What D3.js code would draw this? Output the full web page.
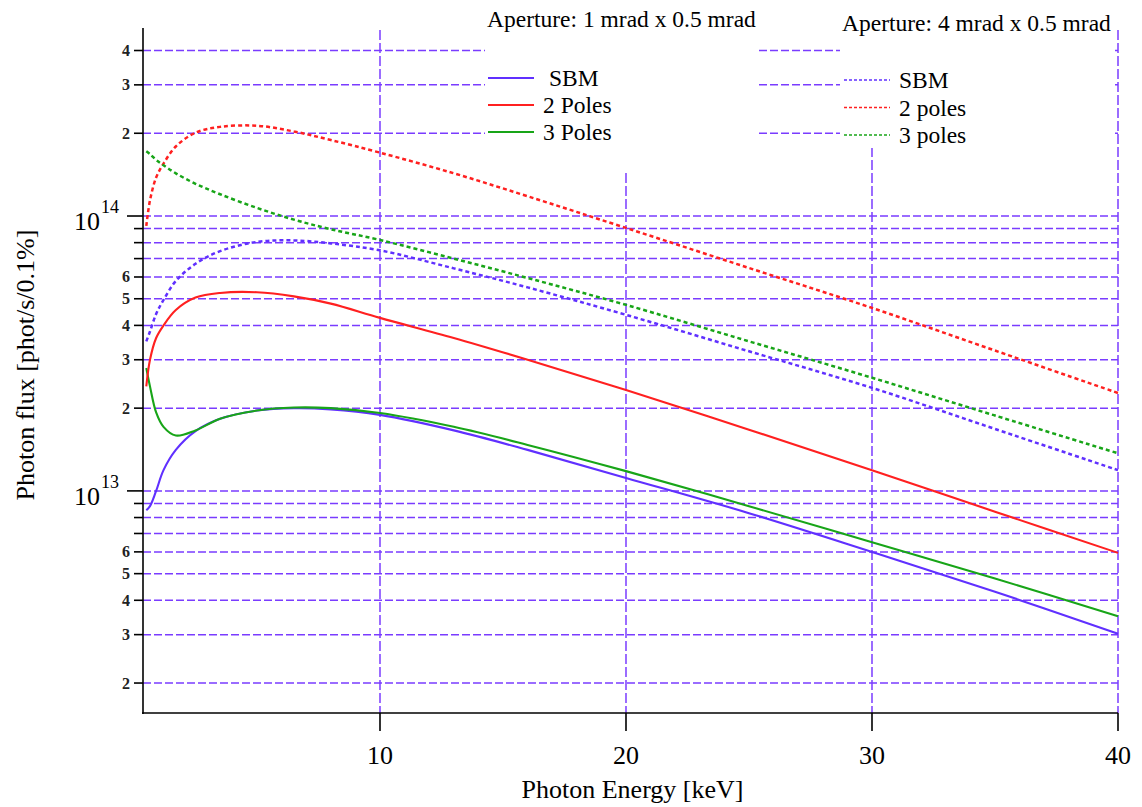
<!DOCTYPE html>
<html>
<head>
<meta charset="utf-8">
<script src="https://cdn.jsdelivr.net/npm/d3@7"></script>
<style>
  html, body { margin: 0; padding: 0; background: #fff; }
  svg { display: block; }
  svg text { font-family: "Liberation Serif", "Times New Roman", serif; }
</style>
</head>
<body>
<svg id="chart" width="1142" height="807"></svg>
<script>
// ---------- data (photon flux in units of 1e13 phot/s/0.1%) ----------
const energy = [0.5, 0.65, 0.9, 1.2, 1.7, 2.5, 3.5, 5, 6.5, 8, 10, 13, 16, 20, 25, 30, 35, 40];

// Aperture 1 mrad x 0.5 mrad (solid)
const sbm1    = [0.85, 0.88, 1.0, 1.19, 1.41, 1.65, 1.83, 1.96, 2.0, 1.98, 1.89, 1.66, 1.41, 1.115, 0.83, 0.60, 0.43, 0.302];
const poles2_1 = [2.4, 3.0, 3.6, 4.0, 4.55, 5.05, 5.25, 5.28, 5.1, 4.8, 4.26, 3.6, 3.0, 2.33, 1.67, 1.19, 0.84, 0.595];
const poles3_1 = [2.8, 2.4, 1.93, 1.71, 1.59, 1.66, 1.83, 1.96, 2.01, 2.0, 1.92, 1.71, 1.47, 1.18, 0.88, 0.65, 0.48, 0.35];

// Aperture 4 mrad x 0.5 mrad (dotted)
const sbm4    = [3.5, 3.8, 4.4, 4.95, 5.8, 6.7, 7.45, 8.05, 8.15, 7.95, 7.5, 6.45, 5.5, 4.37, 3.22, 2.37, 1.68, 1.19];
const poles2_4 = [9.2, 11.4, 13.8, 15.5, 17.9, 20.1, 21.1, 21.3, 20.3, 18.9, 17.0, 14.3, 11.8, 9.05, 6.47, 4.63, 3.24, 2.27];
const poles3_4 = [17.2, 16.8, 16.0, 15.3, 14.3, 13.1, 12.0, 10.7, 9.7, 8.95, 8.18, 7.0, 5.95, 4.75, 3.5, 2.58, 1.88, 1.37];

// ticks
const xTicks = [10, 20, 30, 40];
const xTickLabels = ["10", "20", "30", "40"];
const yTicks = [0.2, 0.3, 0.4, 0.5, 0.6, 0.7, 0.8, 0.9, 1, 2, 3, 4, 5, 6, 7, 8, 9, 10, 20, 30, 40];
const yTickLabels = ["2", "3", "4", "5", "6", "", "", "", "10^13", "2", "3", "4", "5", "6", "", "", "", "10^14", "2", "3", "4"];

const legend1Title = "Aperture: 1 mrad x 0.5 mrad";
const legend2Title = "Aperture: 4 mrad x 0.5 mrad";
const legend1Labels = ["SBM", "2 Poles", "3 Poles"];
const legend2Labels = ["SBM", "2 poles", "3 poles"];

// ---------- layout ----------
const C_SBM = "#6030ff", C_RED = "#ff2020", C_GREEN = "#18a518", C_GRID = "#7a3cff";
const FONT = "'Liberation Serif', 'Times New Roman', serif";
const pL = 143, pR = 1118, pT = 28, pB = 713;

const svg = d3.select("#chart");
const x = d3.scaleLinear().domain([0.366, 40]).range([pL, pR]);
const y = d3.scaleLog().domain([0.1556, 48.3]).range([pB, pT]);

function txt(xp, yp, s, size, anchor) {
  return svg.append("text").attr("x", xp).attr("y", yp)
    .attr("font-family", FONT).attr("font-size", size)
    .attr("text-anchor", anchor || "start").attr("fill", "#000").text(s);
}

// gridlines
const grid = svg.append("g");
grid.selectAll("line.h").data(yTicks).join("line")
  .attr("x1", pL).attr("x2", pR)
  .attr("y1", d => y(d)).attr("y2", d => y(d))
  .attr("stroke", C_GRID).attr("stroke-width", 1.5).attr("stroke-dasharray", "8,3");
grid.selectAll("line.v").data(xTicks).join("line")
  .attr("x1", d => x(d)).attr("x2", d => x(d))
  .attr("y1", pT + 2).attr("y2", pB)
  .attr("stroke", C_GRID).attr("stroke-width", 1.5).attr("stroke-dasharray", "10,3");

// legend backgrounds (hide gridlines)
svg.append("rect").attr("x", 485).attr("y", 0).attr("width", 273).attr("height", 172).attr("fill", "#fff");
svg.append("rect").attr("x", 840).attr("y", 0).attr("width", 275).attr("height", 148).attr("fill", "#fff");

// curves
const line = d3.line().x(d => x(d[0])).y(d => y(d[1])).curve(d3.curveCatmullRom.alpha(0.5));
const series = [
  { v: sbm4, c: C_SBM, dash: "4,3" },
  { v: poles2_4, c: C_RED, dash: "4,3" },
  { v: poles3_4, c: C_GREEN, dash: "4,3" },
  { v: sbm1, c: C_SBM, dash: null },
  { v: poles3_1, c: C_GREEN, dash: null },
  { v: poles2_1, c: C_RED, dash: null }
];
series.forEach(s => {
  svg.append("path")
    .attr("d", line(energy.map((e, i) => [e, s.v[i]])))
    .attr("fill", "none").attr("stroke", s.c)
    .attr("stroke-width", s.dash ? 2.5 : 2.1)
    .attr("stroke-dasharray", s.dash);
});

// axes
const ax = svg.append("g").attr("stroke", "#000").attr("stroke-width", 1.6);
ax.append("line").attr("x1", pL).attr("x2", pL).attr("y1", pT).attr("y2", pB + 1);
ax.append("line").attr("x1", pL - 1).attr("x2", pR).attr("y1", pB).attr("y2", pB);
yTicks.forEach((t, i) => {
  const major = yTickLabels[i].startsWith("10^");
  ax.append("line").attr("x1", pL - (major ? 16 : 9)).attr("x2", pL)
    .attr("y1", y(t)).attr("y2", y(t));
});
xTicks.forEach(t => {
  ax.append("line").attr("x1", x(t)).attr("x2", x(t)).attr("y1", pB).attr("y2", pB + 18);
});

// y tick labels
yTicks.forEach((t, i) => {
  const lab = yTickLabels[i];
  if (!lab) return;
  if (lab.startsWith("10^")) {
    txt(100, y(t) + 14, "10", 26, "end");
    txt(101, y(t) - 3, lab.slice(3), 18, "start");
  } else {
    txt(130, y(t) + 5.5, lab, 16, "end").attr("font-weight", "bold").attr("fill", "#222");
  }
});

// x tick labels
xTicks.forEach((t, i) => txt(x(t), 764, xTickLabels[i], 26, "middle"));

// axis titles
txt((pL + pR) / 2 + 2, 798, "Photon Energy [keV]", 26, "middle");
txt(0, 0, "Photon flux [phot/s/0.1%]", 26, "middle")
  .attr("x", null).attr("y", null)
  .attr("transform", "translate(34,365) rotate(-90)");

// legends
const colors = [C_SBM, C_RED, C_GREEN];
txt(487, 27, legend1Title, 23.5);
txt(842, 31, legend2Title, 23.5);
legend1Labels.forEach((l, i) => {
  const yy = 78 + i * 27;
  svg.append("line").attr("x1", 488).attr("x2", 534).attr("y1", yy).attr("y2", yy)
    .attr("stroke", colors[i]).attr("stroke-width", 2);
  txt(i === 0 ? 549 : 543, yy + 8, l, 23.5);
});
legend2Labels.forEach((l, i) => {
  const yy = 80 + i * 27.5;
  svg.append("line").attr("x1", 844).attr("x2", 890).attr("y1", yy).attr("y2", yy)
    .attr("stroke", colors[i]).attr("stroke-width", 1.6).attr("stroke-dasharray", "3,2");
  txt(899, yy + 8, l, 23.5);
});
</script>
</body>
</html>
